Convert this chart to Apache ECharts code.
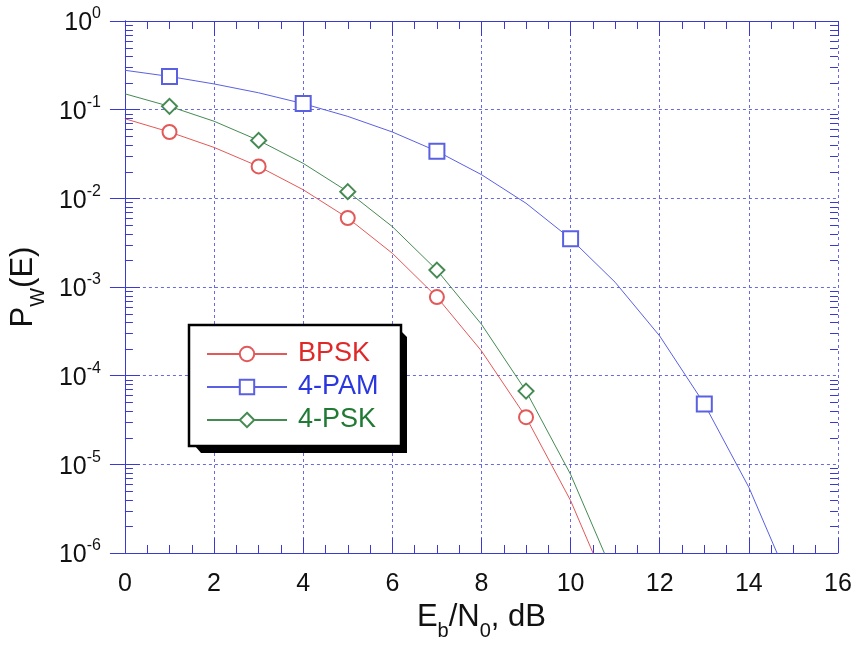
<!DOCTYPE html>
<html>
<head>
<meta charset="utf-8">
<script src="https://cdn.jsdelivr.net/npm/echarts@6/dist/echarts.min.js"></script>
<style>
html,body{margin:0;padding:0;background:#fff;}
#c{width:860px;height:649px;}
</style>
</head>
<body>
<div id="c"></div>
<script>
// Eb/N0 in dB (line vertices)
const ebnoBPSK = [0,1,2,3,4,5,6,7,8,9,10,11];
const valBPSK  = [0.079,0.056,0.0375,0.0229,0.0125,0.006,0.0024,0.00077,0.00019,0.000034,0.0000039,0.00000026];
const markBPSK = [1,3,5,7,9];

const ebnoPAM = [0,1,2,3,4,5,6,7,8,9,10,11,12,13,14,15];
const valPAM  = [0.278,0.237,0.195,0.155,0.117,0.084,0.056,0.034,0.0185,0.0088,0.0035,0.00113,0.00028,0.000048,0.0000055,0.00000037];
const markPAM = [1,4,7,10,13];

const ebnoPSK = [0,1,2,3,4,5,6,7,8,9,10,11];
const valPSK  = [0.151,0.109,0.074,0.045,0.0248,0.0119,0.0048,0.00155,0.00038,0.000067,0.0000077,0.00000052];
const markPSK = [1,3,5,7,9];

const seriesNames = ['BPSK','4-PAM','4-PSK'];
const seriesColors = ['#e02828','#2a36e0','#1f7a33'];
const lineColors = ['#e35858','#5a60e2','#458a52'];
const symbols = ['emptyCircle','emptyRect','emptyDiamond'];
const symSizes = [14,15,15];

const xMin = 0, xMax = 16, xInterval = 2;
const yMin = 1e-6, yMax = 1;

const FONT = 'Liberation Sans, Arial, Helvetica, sans-serif';
const AX = '#3a3ad0';
const GRIDC = '#6a6ae0';

function buildData(xs, ys, marks) {
  return xs.map((x, i) => {
    const item = { value: [x, ys[i]] };
    if (marks.indexOf(x) < 0) item.symbol = 'none';
    return item;
  });
}

const chart = echarts.init(document.getElementById('c'), null, { renderer: 'canvas' });

const all = [[ebnoBPSK, valBPSK, markBPSK],[ebnoPAM, valPAM, markPAM],[ebnoPSK, valPSK, markPSK]];

const series = all.map((d, i) => ({
  name: seriesNames[i],
  type: 'line',
  data: buildData(d[0], d[1], d[2]),
  showSymbol: true,
  showAllSymbol: true,
  symbol: symbols[i],
  symbolSize: symSizes[i],
  color: seriesColors[i],
  itemStyle: { color: lineColors[i], borderWidth: 1 },
  lineStyle: { color: lineColors[i], width: 1 },
  clip: true,
  animation: false,
  z: 3
}));

const option = {
  animation: false,
  backgroundColor: '#ffffff',
  grid: { left: 122, right: 22, top: 21, bottom: 96, containLabel: false },
  legend: {
    orient: 'vertical',
    left: 188, top: 324,
    padding: [16, 19, 12, 18],
    itemWidth: 80, itemHeight: 18, itemGap: 5,
    backgroundColor: 'transparent',
    borderWidth: 0,
    z: 8,
    textStyle: { fontSize: 27, fontFamily: FONT, padding: [0, 0, 0, 6], lineHeight: 28 },
    data: seriesNames.map((n, i) => ({ name: n, textStyle: { color: seriesColors[i] } })),
    selectedMode: false
  },
  xAxis: [{
    type: 'value', min: xMin, max: xMax, interval: xInterval,
    position: 'bottom',
    name: '{a|E}{s|b}{a|/N}{s|0}{a|, dB}',
    nameLocation: 'middle', nameGap: 38,
    nameTextStyle: { rich: {
      a: { fontSize: 31, fontFamily: FONT, color: '#111', verticalAlign: 'top', lineHeight: 40 },
      s: { fontSize: 20, fontFamily: FONT, color: '#111', verticalAlign: 'bottom', lineHeight: 40 }
    } },
    axisLine: { show: true, lineStyle: { color: AX, width: 1 } },
    axisTick: { show: true, inside: true, length: 15, lineStyle: { color: AX } },
    minorTick: { show: true, splitNumber: 4, length: 8, lineStyle: { color: AX } },
    axisLabel: { fontSize: 25, fontFamily: FONT, color: '#111', margin: 19 },
    splitLine: { show: true, lineStyle: { color: GRIDC, type: [3, 3], width: 1 } },
    minorSplitLine: { show: false }
  }, {
    type: 'value', min: xMin, max: xMax, interval: xInterval,
    position: 'top',
    axisLine: { show: true, lineStyle: { color: AX, width: 1 } },
    axisTick: { show: true, inside: true, length: 15, lineStyle: { color: AX } },
    minorTick: { show: true, splitNumber: 4, length: 8, lineStyle: { color: AX } },
    axisLabel: { show: false },
    splitLine: { show: false }
  }],
  yAxis: [{
    type: 'log', min: yMin, max: yMax, logBase: 10, interval: 1,
    position: 'left',
    name: '{a|P}{s|W}{a|(E)}',
    nameLocation: 'middle', nameGap: 67, nameRotate: 90,
    nameTextStyle: { rich: {
      a: { fontSize: 31, fontFamily: FONT, color: '#111', verticalAlign: 'top', lineHeight: 40 },
      s: { fontSize: 20, fontFamily: FONT, color: '#111', verticalAlign: 'bottom', lineHeight: 40 }
    } },
    axisLine: { show: true, lineStyle: { color: AX, width: 1 } },
    axisTick: { show: true, inside: true, length: 15, lineStyle: { color: AX } },
    axisLabel: {
      margin: 24, color: '#111',
      formatter: function (v) {
        const e = Math.round(Math.log10(v));
        return '{b|10}{e|' + e + '}';
      },
      rich: {
        b: { fontSize: 25, fontFamily: FONT, color: '#111', verticalAlign: 'bottom', lineHeight: 30 },
        e: { fontSize: 16, fontFamily: FONT, color: '#111', verticalAlign: 'top', lineHeight: 30 }
      }
    },
    splitLine: { show: true, lineStyle: { color: GRIDC, type: [3, 3], width: 1 } }
  }, {
    type: 'log', min: yMin, max: yMax, logBase: 10, interval: 1,
    position: 'right',
    axisLine: { show: true, lineStyle: { color: AX, width: 1 } },
    axisTick: { show: true, inside: true, length: 15, lineStyle: { color: AX } },
    axisLabel: { show: false },
    splitLine: { show: false }
  }],
  series: series
};

chart.setOption(option);

// minor log ticks (2..9 per decade) on left and right axes, placed through the axis scale
const xl = chart.convertToPixel({ xAxisIndex: 0 }, xMin);
const xr = chart.convertToPixel({ xAxisIndex: 0 }, xMax);
const gfx = [];
for (let k = -6; k < 0; k++) {
  for (let m = 2; m <= 9; m++) {
    const v = m * Math.pow(10, k);
    const y = Math.round(chart.convertToPixel({ yAxisIndex: 0 }, v)) + 0.5;
    gfx.push({ type: 'line', shape: { x1: xl, y1: y, x2: xl + 8, y2: y }, style: { stroke: AX, lineWidth: 1 }, silent: true, z: 4 });
    gfx.push({ type: 'line', shape: { x1: xr - 8, y1: y, x2: xr, y2: y }, style: { stroke: AX, lineWidth: 1 }, silent: true, z: 4 });
  }
}
// legend frame with solid drop shadow
const box = { x: 189, y: 325, width: 212, height: 121 };
gfx.push({ type: 'polygon', shape: { points: [
  [box.x + 6, box.y + box.height], [box.x + box.width, box.y + box.height],
  [box.x + box.width, box.y + 6], [box.x + box.width + 6, box.y + 12],
  [box.x + box.width + 6, box.y + box.height + 7], [box.x + 12, box.y + box.height + 7]
] }, style: { fill: '#000' }, silent: true, z: 6 });
gfx.push({ type: 'rect', shape: box, style: { fill: '#fff', stroke: '#000', lineWidth: 2.5 }, silent: true, z: 7 });
chart.setOption({ graphic: gfx });
</script>
</body>
</html>
